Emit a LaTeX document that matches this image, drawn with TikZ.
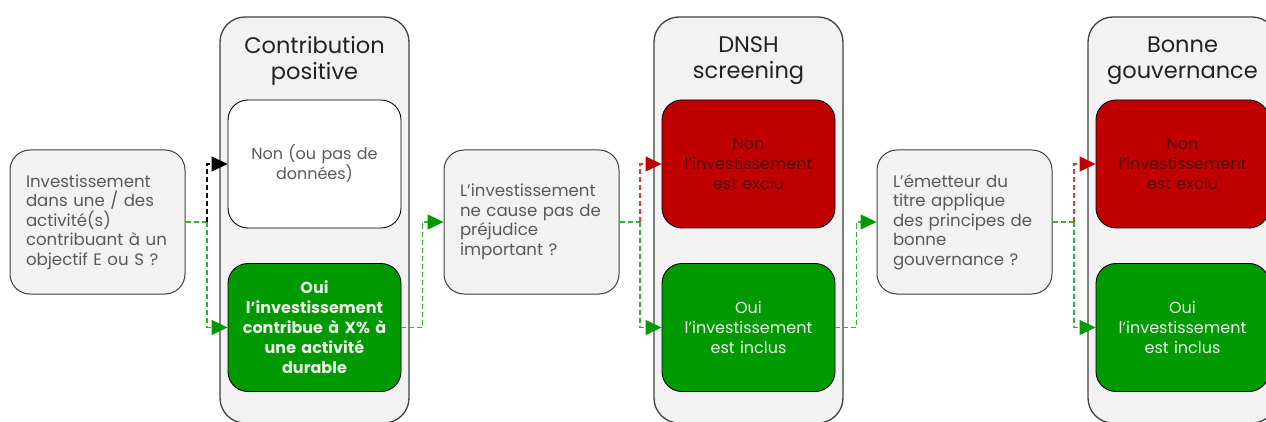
\documentclass[tikz,border=0pt]{standalone}
\usepackage{fontspec}
\setmainfont{Poppins}
\usetikzlibrary{arrows.meta}
\definecolor{panelgray}{HTML}{F2F2F2}
\definecolor{panelline}{HTML}{404040}
\definecolor{qtext}{HTML}{595959}
\definecolor{titletext}{HTML}{222222}
\definecolor{okfill}{HTML}{009900}
\definecolor{oktext}{HTML}{EAF7EA}
\definecolor{nofill}{HTML}{C00000}
\definecolor{notext}{HTML}{550000}
\definecolor{gline}{HTML}{38B038}
\definecolor{rline}{HTML}{E03A3A}
\tikzset{
  panel/.style={draw=panelline, line width=1.3pt, fill=panelgray, rounded corners=25pt, minimum width=189pt, minimum height=406pt, inner sep=0pt},
  paneltitle/.style={text=titletext, align=center, font=\fontsize{22.5}{26}\selectfont},
  inbox/.style={draw=black, line width=0.9pt, rounded corners=20pt, minimum width=173pt, minimum height=128pt, align=center, text width=165pt, inner sep=0pt, font=\fontsize{16}{20}\selectfont},
  whitebox/.style={inbox, fill=white, text=qtext},
  greenbox/.style={inbox, fill=okfill, text=oktext},
  redbox/.style={inbox, fill=nofill, text=notext},
  qbox/.style={draw=panelline, line width=1pt, fill=panelgray, rounded corners=20pt, minimum width=175pt, minimum height=144pt, text width=143pt, inner xsep=16pt, align=left, text=qtext, font=\fontsize{16.6}{19.5}\selectfont},
  dsh/.style={line width=1.1pt, dash pattern=on 5pt off 3pt},
  gdash/.style={dsh, draw=gline},
  kdash/.style={dsh, draw=black},
  rdash/.style={dsh, draw=rline},
  gtip/.style={-{Triangle[length=16pt,width=15pt,fill=okfill,color=okfill]}},
  rtip/.style={-{Triangle[length=16pt,width=15pt,fill=nofill,color=nofill]}},
  ktip/.style={-{Triangle[length=16pt,width=15pt,fill=black,color=black]}},
}
\begin{document}
\begin{tikzpicture}[x=1pt,y=-1pt]
\useasboundingbox (0,0) rectangle (1266,422);
\clip (0,0) rectangle (1266,422);

% panels
\node[panel] (p1) at (314.5,220) {};
\node[panel] (p2) at (748.5,220) {};
\node[panel] (p3) at (1182.5,220) {};

\node[paneltitle] (t1) at (314.5,61) {Contribution\\positive};
\node[paneltitle] (t2) at (748.5,61) {DNSH\\screening};
\node[paneltitle] (t3) at (1182.5,61) {Bonne\\gouvernance};

% inner boxes
\node[whitebox] (w1) at (314.5,164) {Non (ou pas de\\données)};
\node[greenbox, font=\fontsize{16}{20}\selectfont\bfseries] (g1) at (314.5,327.5) {Oui\\l’investissement\\contribue à X\% à\\une activité\\durable};
\node[redbox] (r2) at (748.5,164) {Non\\l’investissement\\est exclu};
\node[greenbox] (g2) at (748.5,327.5) {Oui\\l’investissement\\est inclus};
\node[redbox] (r3) at (1182.5,164) {Non\\l’investissement\\est exclu};
\node[greenbox] (g3) at (1182.5,327.5) {Oui\\l’investissement\\est inclus};

% question boxes
\node[qbox] (q1) at (97.5,222) {Investissement\\dans une / des\\activité(s)\\contribuant à un\\objectif E ou S ?};
\node[qbox] (q2) at (531.5,222) {L’investissement\\ne cause pas de\\préjudice\\important ?};
\node[qbox] (q3) at (964.5,222) {L’émetteur du\\titre applique\\des principes de\\bonne\\gouvernance ?};

% connectors
\coordinate (j1) at (207,222);
\draw[gdash] (q1.east) -- (j1);
\draw[kdash, ktip] (j1) |- (w1.west);
\draw[gdash, gtip] (j1) |- (g1.west);

\draw[gdash, gtip] (g1.east) -- ++(21,0) |- (q2.west);

\coordinate (j2) at (640,222);
\draw[gdash] (q2.east) -- (j2);
\draw[rdash, rtip] (j2) |- (r2.west);
\draw[gdash, gtip] (j2) |- (g2.west);

\draw[gdash, gtip] (g2.east) -- ++(21,0) |- (q3.west);

\coordinate (j3) at (1074,222);
\draw[gdash] (q3.east) -- (j3);
\draw[rdash, rtip] (j3) |- (r3.west);
\draw[gdash, gtip] (j3) |- (g3.west);
\end{tikzpicture}
\end{document}
